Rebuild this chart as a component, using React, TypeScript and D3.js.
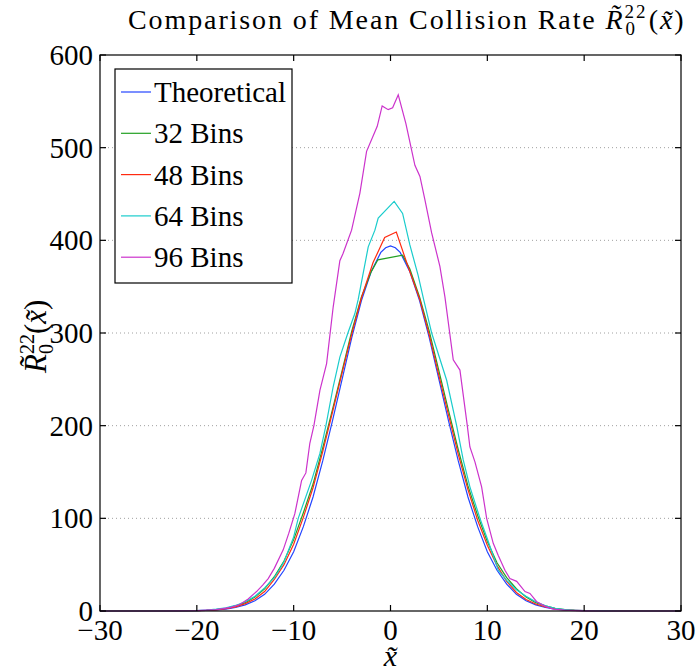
import React, { useEffect, useRef } from 'react';
import * as d3 from 'd3';

// values, [x, R(x)]
const theoretical: [number, number][] = [
  [-30, 0], [-24, 0], [-22, 0.1], [-20, 0.3], [-19, 0.6], [-18, 1.1], [-17, 2.1], [-16, 3.8],
  [-15, 6.6], [-14, 11], [-13, 18], [-12, 29], [-11, 44], [-10, 64], [-9, 91], [-8, 123],
  [-7, 162], [-6, 205], [-5, 250], [-4, 295], [-3, 335], [-2, 366], [-1, 387], [-0.5, 392],
  [0, 394], [0.5, 392], [1, 387], [2, 366], [3, 335], [4, 295], [5, 250], [6, 205], [7, 162],
  [8, 123], [9, 91], [10, 64], [11, 44], [12, 29], [13, 18], [14, 11], [15, 6.6], [16, 3.8],
  [17, 2.1], [18, 1.1], [19, 0.6], [20, 0.3], [22, 0.1], [24, 0], [30, 0],
];

const bins32: [number, number][] = [
  [-30, 0], [-24, 0], [-22, 0.2], [-20, 0.4], [-19, 0.8], [-18, 1.6], [-17, 3], [-16, 5.5],
  [-15, 9], [-14, 15], [-13, 24], [-12, 37], [-11, 54], [-10, 77], [-9, 106], [-8, 137],
  [-7, 176], [-6, 217], [-5, 259], [-4, 302], [-3, 339], [-2, 366], [-1.3, 379], [1.25, 384],
  [2, 369], [3, 339], [4, 302], [5, 259], [6, 216], [7, 174], [8, 135], [9, 103], [10, 75],
  [11, 52], [12, 36], [13, 24], [14, 15], [15, 9], [16, 5.5], [17, 3], [18, 1.6], [19, 0.8],
  [20, 0.4], [22, 0.2], [24, 0], [30, 0],
];

const bins48: [number, number][] = [
  [-30, 0], [-24, 0], [-22, 0.2], [-20, 0.4], [-19, 0.7], [-18, 1.3], [-17, 2.5], [-16, 4.5],
  [-15, 8], [-14, 13], [-13, 21], [-12, 34], [-11, 50], [-10, 72], [-9, 101], [-8, 133],
  [-7, 172], [-6, 214], [-5, 257], [-4, 299], [-3, 338], [-1.8, 376], [-0.6, 403], [0.6, 409],
  [1.8, 372], [3, 337], [4, 298], [5, 254], [6, 211], [7, 169], [8, 131], [9, 98], [10, 71],
  [11, 49], [12, 32], [13, 20], [14, 12.5], [15, 7.5], [16, 4.3], [17, 2.4], [18, 1.3],
  [19, 0.7], [20, 0.3], [22, 0.1], [24, 0], [30, 0],
];

const bins64: [number, number][] = [
  [-30, 0], [-24, 0], [-22, 0.2], [-20, 0.5], [-19, 1], [-18, 2], [-17, 3.5], [-16, 6],
  [-15, 10], [-14, 16], [-13, 25], [-12, 36], [-11.5, 44], [-11, 53], [-10, 80], [-9.53, 100],
  [-8.15, 141], [-7.29, 170], [-6.67, 200], [-5.92, 242], [-5.23, 274], [-4.4, 300],
  [-3.68, 321], [-3.34, 336], [-2.3, 393], [-1.61, 411], [-1.27, 424], [0.38, 442],
  [1.25, 429], [2, 395], [2.86, 362], [3.45, 335], [4.25, 300], [5.8, 249], [6.83, 200],
  [7.51, 163], [8.2, 134], [9.24, 100], [10, 78], [11.13, 44], [12, 33], [13, 23], [14, 16],
  [15, 10], [16, 5.5], [17, 3], [18, 1.5], [19, 0.8], [20, 0.3], [22, 0.1], [24, 0], [30, 0],
];

const bins96: [number, number][] = [
  [-30, 0], [-24, 0], [-22, 0.1], [-20, 0.5], [-19, 1], [-18, 1.5], [-17.3, 2.5], [-16.5, 4],
  [-15.56, 7], [-14.7, 13], [-13.83, 21], [-13.2, 28], [-12.63, 35], [-12, 46], [-11.08, 66],
  [-10.5, 84], [-9.88, 105], [-9.18, 141], [-8.74, 149], [-8.33, 181], [-7.91, 200],
  [-7.29, 238], [-6.6, 267], [-5.92, 328], [-5.23, 378], [-4.89, 386], [-4.02, 411],
  [-3.16, 451], [-2.47, 496], [-1.37, 523], [-0.86, 545], [-0.24, 541], [0.22, 543],
  [0.8, 557], [1.59, 526], [2.52, 481], [3.04, 469], [3.55, 444], [4.25, 408], [5.1, 372],
  [5.62, 339], [6.48, 271], [7.17, 260], [7.93, 200], [8.2, 177], [8.72, 161], [9.41, 134],
  [9.93, 100], [10.61, 73], [11.13, 60], [11.82, 44], [12.33, 35], [13.03, 32], [13.89, 21],
  [14.4, 19], [15.1, 10], [16, 5], [16.8, 2], [18, 1], [19, 0.5], [20, 0.2], [22, 0], [30, 0],
];

const seriesNames = ['Theoretical', '32 Bins', '48 Bins', '64 Bins', '96 Bins'];
const seriesData = [theoretical, bins32, bins48, bins64, bins96];
const seriesColors = ['#2244ff', '#22a022', '#ff2a10', '#19cccc', '#cc33cc'];

const xTicks = [-30, -20, -10, 0, 10, 20, 30];
const yTicks = [0, 100, 200, 300, 400, 500, 600];

const W = 696;
const H = 671;
const margin = { top: 55, right: 15, bottom: 60, left: 100 };
const serif = '"Liberation Serif", "Times New Roman", serif';

const App = () => {
  const svgRef = useRef<SVGSVGElement>(null);

  useEffect(() => {
    const svg = d3.select(svgRef.current);
    svg.selectAll('*').remove();

    const width = W - margin.left - margin.right;
    const height = H - margin.top - margin.bottom;

    const x = d3.scaleLinear().domain([-30, 30]).range([margin.left, margin.left + width]);
    const y = d3.scaleLinear().domain([0, 600]).range([margin.top + height, margin.top]);

    svg.append('rect').attr('width', W).attr('height', H).attr('fill', '#fff');

    // dotted horizontal grid
    svg
      .append('g')
      .selectAll('line')
      .data(yTicks.filter((t) => t > 0 && t < 600))
      .enter()
      .append('line')
      .attr('x1', x(-30))
      .attr('x2', x(30))
      .attr('y1', (d) => y(d))
      .attr('y2', (d) => y(d))
      .attr('stroke', '#a0a0a0')
      .attr('stroke-width', 1)
      .attr('stroke-dasharray', '1,3');

    // curves
    const line = d3
      .line<[number, number]>()
      .x((d) => x(d[0]))
      .y((d) => y(d[1]));

    seriesData.forEach((data, i) => {
      svg
        .append('path')
        .datum(data)
        .attr('fill', 'none')
        .attr('stroke', seriesColors[i])
        .attr('stroke-width', 1.2)
        .attr('d', line);
    });

    // axes box with inward ticks on all four sides
    const tickLen = 6;
    const frame = svg.append('g').attr('stroke', '#000').attr('stroke-width', 1.2);
    frame
      .append('rect')
      .attr('x', x(-30))
      .attr('y', y(600))
      .attr('width', width)
      .attr('height', height)
      .attr('fill', 'none');
    xTicks.forEach((t) => {
      frame.append('line').attr('x1', x(t)).attr('x2', x(t)).attr('y1', y(0)).attr('y2', y(0) - tickLen);
      frame.append('line').attr('x1', x(t)).attr('x2', x(t)).attr('y1', y(600)).attr('y2', y(600) + tickLen);
    });
    yTicks.forEach((t) => {
      frame.append('line').attr('x1', x(-30)).attr('x2', x(-30) + tickLen).attr('y1', y(t)).attr('y2', y(t));
      frame.append('line').attr('x1', x(30)).attr('x2', x(30) - tickLen).attr('y1', y(t)).attr('y2', y(t));
    });

    const fmt = d3.format('d');
    const tickFont = 29;

    svg
      .append('g')
      .selectAll('text')
      .data(xTicks)
      .enter()
      .append('text')
      .attr('x', (d) => x(d))
      .attr('y', y(0) + 29)
      .attr('text-anchor', 'middle')
      .style('font-family', serif)
      .style('font-size', `${tickFont}px`)
      .text((d) => fmt(d));

    svg
      .append('g')
      .selectAll('text')
      .data(yTicks)
      .enter()
      .append('text')
      .attr('x', x(-30) - 7)
      .attr('y', (d) => y(d) + 10)
      .attr('text-anchor', 'end')
      .style('font-family', serif)
      .style('font-size', `${tickFont}px`)
      .text((d) => fmt(d));

    // legend
    const lg = svg.append('g');
    lg.append('rect')
      .attr('x', 115)
      .attr('y', 69)
      .attr('width', 177)
      .attr('height', 214)
      .attr('fill', '#fff')
      .attr('stroke', '#000')
      .attr('stroke-width', 1.2);
    seriesNames.forEach((name, i) => {
      const cy = 92 + i * 41.3;
      lg.append('line')
        .attr('x1', 121)
        .attr('x2', 151)
        .attr('y1', cy)
        .attr('y2', cy)
        .attr('stroke', seriesColors[i])
        .attr('stroke-width', 1.2);
      lg.append('text')
        .attr('x', 154)
        .attr('y', cy + 10)
        .style('font-family', serif)
        .style('font-size', `${tickFont}px`)
        .text(name);
    });

    // title
    const title = svg
      .append('text')
      .attr('x', 128)
      .attr('y', 29)
      .style('font-family', serif)
      .style('font-size', '28px')
      .style('letter-spacing', '1.9px');
    title.append('tspan').text('Comparison of Mean Collision Rate ');
    title.append('tspan').style('font-style', 'italic').text('R\u0303');
    title.append('tspan').attr('dy', -11).style('font-size', '19px').text('22');
    title.append('tspan').attr('dx', -22).attr('dy', 17).style('font-size', '19px').text('0');
    title.append('tspan').attr('dx', 12).attr('dy', -6).text('(');
    title.append('tspan').style('font-style', 'italic').text('x\u0303');
    title.append('tspan').text(')');

    // y label
    const yl = svg
      .append('text')
      .attr('transform', 'translate(46,373) rotate(-90)')
      .style('font-family', serif)
      .style('font-size', '31px');
    yl.append('tspan').style('font-style', 'italic').text('R\u0303');
    yl.append('tspan').attr('dy', -12).style('font-size', '20px').text('22');
    yl.append('tspan').attr('dx', -20).attr('dy', 19).style('font-size', '20px').text('0');
    yl.append('tspan').attr('dx', 10).attr('dy', -7).text('(');
    yl.append('tspan').style('font-style', 'italic').text('x\u0303');
    yl.append('tspan').text(')');

    // x label
    svg
      .append('text')
      .attr('x', x(0))
      .attr('y', 666)
      .attr('text-anchor', 'middle')
      .style('font-family', serif)
      .style('font-size', '30px')
      .style('font-style', 'italic')
      .text('x\u0303');
  }, []);

  return (
    <svg
      ref={svgRef}
      width={W}
      height={H}
      style={{ position: 'absolute', left: 0, top: 0, display: 'block' }}
    />
  );
};

export default App;
